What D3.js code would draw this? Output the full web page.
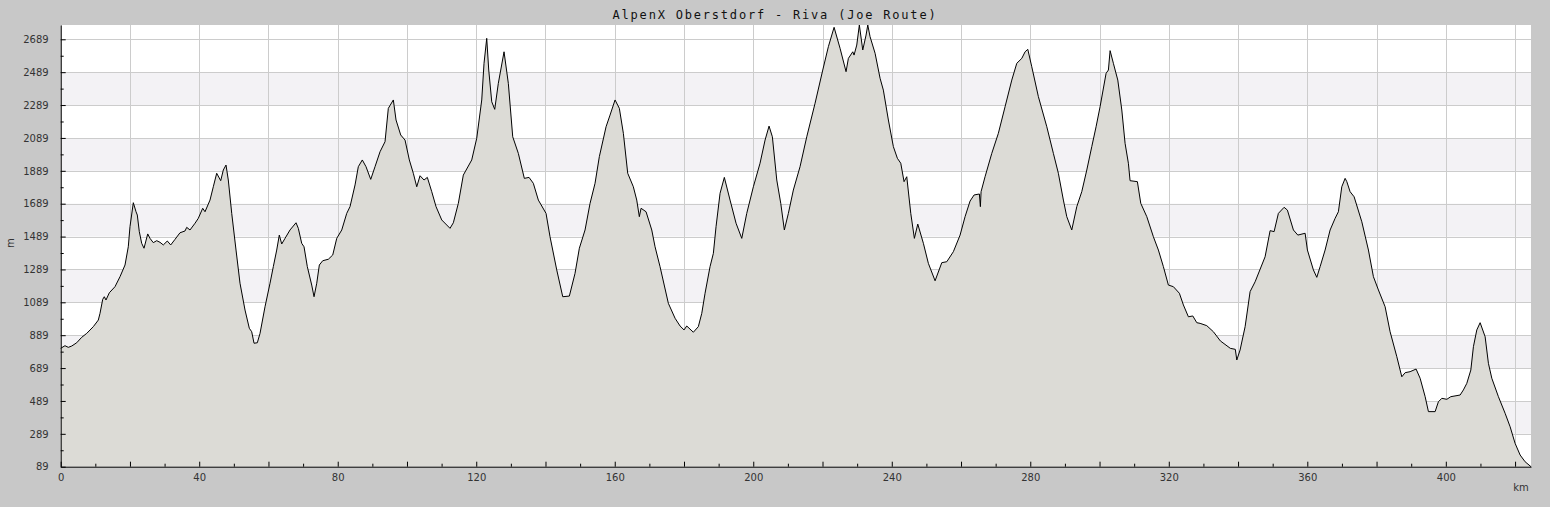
<!DOCTYPE html>
<html><head><meta charset="utf-8">
<script src="https://cdn.jsdelivr.net/npm/d3@7"></script>
<style>html,body{margin:0;padding:0;background:#c8c8c8;}svg{display:block;}</style>
</head><body>
<svg id="chart" width="1550" height="507"></svg>
<script>
const title = "AlpenX Oberstdorf - Riva (Joe Route)";
const xLabel = "km";
const yLabel = "m";
const yTickValues = [89, 289, 489, 689, 889, 1089, 1289, 1489, 1689, 1889, 2089, 2289, 2489, 2689];
const xTickLabels = [0, 40, 80, 120, 160, 200, 240, 280, 320, 360, 400];

const km = [0,1.24,2.19,3.18,4.62,6.06,7.51,9.42,10.86,11.35,12.13,12.59,13.08,14.04,15.68,17.13,18.57,19.52,20.01,20.97,21.75,22.12,22.7,23.39,24.06,25.13,25.79,26.74,27.73,28.68,29.63,30.79,31.77,33.01,34.45,35.9,36.39,37.34,38.79,39.74,41.01,41.68,43.12,44.07,45.05,46.21,46.96,47.74,48.4,49.39,50.63,51.78,53.23,54.47,55.16,55.83,56.78,57.56,59,60.45,61.4,62.38,63.13,63.83,64.78,66.22,67.96,68.62,69.6,70.27,71.22,72.49,73.16,73.94,74.69,75.67,77.29,78.56,79.71,81.16,82.6,83.55,85,85.95,87.1,88.17,89.53,90.77,92.22,93.66,94.61,96.06,96.84,98.19,99.44,100.68,101.83,102.82,103.77,104.92,105.88,107.15,108.39,110.04,112.43,113.39,114.83,116.27,118.7,120.14,121.59,122.25,123.03,123.61,124.48,125.34,126.38,128.03,129.27,130.54,132.16,133.89,135.25,136.49,137.94,140.16,141.31,143.25,144.98,146.89,148.53,149.78,151.42,152.87,154.31,155.55,157.49,158.64,160.09,161.33,162.49,163.75,165.37,166.35,167.1,167.6,169.04,170.69,171.64,173.08,175.48,177.42,178.86,180.01,180.79,182.7,184.14,185.13,186.08,187.52,188.48,189.25,190.41,191.65,193.3,195.03,196.68,198.12,200.03,201.96,203.41,204.56,205.52,206.79,207.94,208.98,210.14,211.58,213.51,215.45,217.85,220.07,221.69,223.34,225.07,226.8,227.47,228.74,229.11,229.89,230.64,231.62,232.58,233.07,233.73,235.18,236.62,237.57,239.02,240.46,241.62,242.6,243.55,244.33,245.49,246.53,247.51,249.13,250.57,252.51,254.44,255.89,257.79,259.73,261.17,262.61,263.77,265.3,265.59,265.79,266.94,268.88,270.78,272.72,274.66,276.1,277.55,278.5,279.28,280.43,282.34,284.77,286.67,288.11,289.56,290.54,291.98,293.43,294.87,296.32,297.76,299,300.16,301.89,302.56,303.05,304,305.27,306.43,307.38,308.33,308.82,310.93,311.91,313.65,315.55,317,318.44,319.88,321.33,323.06,324.22,325.66,326.93,328.09,329.04,330.97,332.88,334.9,337.77,339.21,339.64,340.59,342.04,343.48,344.93,346.86,347.81,349.26,350.41,351.65,353.3,354.25,355.99,357.26,359.37,360.03,361.76,362.74,363.7,365.14,366.59,368.03,368.98,369.96,370.92,371.41,372.36,373.52,375.74,377.65,379.09,380.54,382.47,383.91,385.85,387.29,388.25,389.69,391.42,392.58,394.03,394.98,396.91,397.86,398.85,400.29,401.44,404.13,405.08,406.06,407.22,407.97,408.95,409.91,411.35,412.3,413.28,415.19,417.12,418.57,420.01,421.46,422.9,424.6];

const elevation = [809,825,815,823,843,876,900,941,981,1022,1107,1123,1103,1147,1184,1245,1316,1427,1549,1695,1640,1620,1519,1448,1418,1505,1478,1452,1464,1454,1438,1462,1438,1472,1512,1523,1545,1529,1570,1600,1661,1640,1711,1792,1874,1829,1894,1924,1833,1630,1407,1205,1042,931,910,840,843,900,1062,1205,1306,1407,1498,1444,1478,1529,1573,1539,1448,1427,1306,1194,1123,1205,1316,1342,1351,1377,1478,1529,1630,1671,1803,1914,1955,1914,1837,1914,2005,2066,2269,2320,2198,2107,2076,1955,1874,1792,1859,1833,1849,1762,1671,1590,1539,1573,1691,1863,1955,2087,2320,2543,2695,2502,2309,2263,2421,2613,2421,2096,1995,1843,1849,1813,1711,1630,1488,1286,1123,1127,1265,1418,1529,1691,1813,1975,2157,2228,2320,2269,2117,1874,1792,1711,1610,1661,1640,1529,1427,1306,1083,992,945,921,945,907,941,1022,1144,1306,1387,1549,1752,1849,1711,1570,1478,1630,1792,1935,2076,2161,2096,1833,1691,1529,1630,1772,1914,2096,2300,2502,2644,2762,2634,2492,2573,2613,2593,2654,2776,2624,2715,2776,2705,2604,2452,2380,2198,2036,1965,1935,1823,1853,1630,1478,1565,1448,1326,1220,1330,1336,1397,1498,1610,1705,1742,1748,1671,1762,1853,1995,2117,2279,2441,2543,2573,2613,2628,2522,2340,2157,1995,1874,1711,1610,1529,1671,1762,1894,2036,2157,2279,2482,2502,2620,2543,2441,2259,2056,1935,1829,1823,1691,1610,1488,1407,1306,1194,1184,1144,1073,1001,1006,965,961,947,910,854,809,803,738,799,941,1154,1214,1316,1366,1525,1519,1630,1667,1650,1529,1498,1509,1407,1286,1241,1306,1407,1529,1600,1640,1792,1843,1823,1762,1731,1579,1407,1245,1164,1062,910,758,636,661,667,683,627,515,424,424,484,505,499,515,525,556,596,677,819,921,965,880,718,627,515,414,332,231,160,119,89];

const W = 1550, H = 507;
const margin = {left: 60.7, right: 19, top: 25, bottom: 40.3};
const svg = d3.select("#chart");
const data = km.map((k, i) => ({k, e: elevation[i]}));

const x = d3.scaleLinear().domain([0, d3.max(km)]).range([margin.left, W - margin.right]);
const y = d3.scaleLinear().domain([d3.min(elevation), d3.max(elevation)]).range([H - margin.bottom, margin.top]);

svg.append("rect").attr("width", W).attr("height", H).attr("fill", "#c8c8c8");
svg.append("rect").attr("x", margin.left).attr("y", margin.top)
  .attr("width", W - margin.right - margin.left).attr("height", H - margin.bottom - margin.top)
  .attr("fill", "#ffffff");

// alternate bands
const bands = [];
for (let i = 1; i + 1 < yTickValues.length; i += 2) bands.push([yTickValues[i], yTickValues[i + 1]]);
svg.append("g").selectAll("rect").data(bands).join("rect")
  .attr("x", margin.left).attr("width", W - margin.right - margin.left)
  .attr("y", d => y(d[1])).attr("height", d => y(d[0]) - y(d[1]))
  .attr("fill", "#f3f2f5");

// grid lines
const xGrid = d3.range(0, d3.max(km), 20);
svg.append("g").selectAll("line").data(xGrid).join("line")
  .attr("x1", d => Math.round(x(d)) + 0.5).attr("x2", d => Math.round(x(d)) + 0.5)
  .attr("y1", margin.top).attr("y2", H - margin.bottom)
  .attr("stroke", "#cccccc").attr("stroke-width", 1);
svg.append("g").selectAll("line").data(yTickValues).join("line")
  .attr("x1", margin.left).attr("x2", W - margin.right)
  .attr("y1", d => Math.round(y(d)) + 0.5).attr("y2", d => Math.round(y(d)) + 0.5)
  .attr("stroke", "#cccccc").attr("stroke-width", 1);

// area and line
const area = d3.area().x(d => x(d.k)).y0(y(d3.min(elevation))).y1(d => y(d.e));
const line = d3.line().x(d => x(d.k)).y(d => y(d.e));
svg.append("path").datum(data).attr("d", area).attr("fill", "#dcdbd6");
svg.append("path").datum(data).attr("d", line).attr("fill", "none")
  .attr("stroke", "#000").attr("stroke-width", 1).attr("stroke-linejoin", "miter");

// axes
const font = "DejaVu Sans, sans-serif";
const yMinor = d3.range(yTickValues[0] + 100, d3.max(elevation), 200);
const xAxis = d3.axisBottom(x).tickValues(d3.range(0, d3.max(km), 20)).tickSizeInner(-5).tickSizeOuter(0)
  .tickFormat(d => xTickLabels.includes(d) ? d : "").tickPadding(9);
const gx = svg.append("g").attr("transform", `translate(0,${H - margin.bottom})`).call(xAxis);
const xMinorAxis = d3.axisBottom(x).tickValues(d3.range(10, d3.max(km), 20)).tickSizeInner(-3).tickSizeOuter(0).tickFormat("");
const gxm = svg.append("g").attr("transform", `translate(0,${H - margin.bottom})`).call(xMinorAxis);
gxm.select(".domain").remove();

const yAxis = d3.axisLeft(y).tickValues(yTickValues).tickSizeInner(-5).tickSizeOuter(0).tickPadding(12)
  .tickFormat(d3.format("d"));
const gy = svg.append("g").attr("transform", `translate(${margin.left},0)`).call(yAxis);
const yMinorAxis = d3.axisLeft(y).tickValues(yMinor).tickSizeInner(-3).tickSizeOuter(0).tickFormat("");
const gym = svg.append("g").attr("transform", `translate(${margin.left},0)`).call(yMinorAxis);
gym.select(".domain").remove();

[gx, gxm, gy, gym].forEach(g => {
  g.selectAll("line").attr("stroke", "#000");
  g.selectAll(".domain").attr("stroke", "#000");
  g.selectAll("text").attr("font-family", font).attr("font-size", "10px").attr("fill", "#333");
});
gx.selectAll("text").attr("dy", "0.5em");

svg.append("text").attr("x", 1521).attr("y", 491).attr("text-anchor", "middle")
  .attr("font-family", font).attr("font-size", "10px").attr("fill", "#333").text(xLabel);
svg.append("text").attr("transform", "translate(14,243) rotate(-90)").attr("text-anchor", "middle")
  .attr("font-family", font).attr("font-size", "10px").attr("fill", "#333").text(yLabel);

svg.append("text").attr("x", 775).attr("y", 19).attr("text-anchor", "middle")
  .attr("font-family", "DejaVu Sans Mono, monospace").attr("font-size", "12px")
  .attr("letter-spacing", "1.8px").attr("fill", "#111").text(title);
</script>
</body></html>
